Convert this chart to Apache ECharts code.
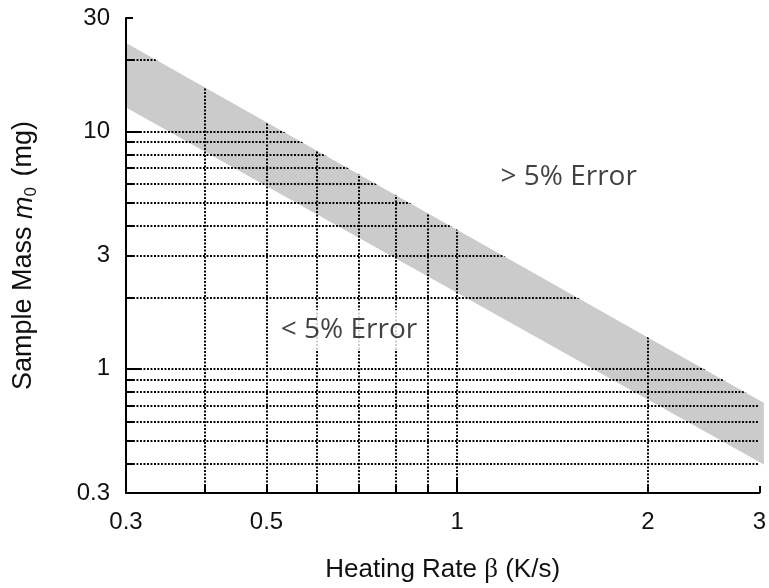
<!DOCTYPE html>
<html>
<head>
<meta charset="utf-8">
<script src="https://cdn.jsdelivr.net/npm/echarts@6/dist/echarts.min.js"></script>
<style>
  html, body { margin: 0; padding: 0; background: #fff; }
  #chart { width: 769px; height: 588px; }
</style>
</head>
<body>
<div id="chart"></div>
<script>
// heating rate axis (K/s)
const xMin = 0.3, xMax = 3
const xLabels = [0.3, 0.5, 1, 2, 3]
const xMinorTicks = [0.4, 0.5, 0.6, 0.7, 0.8, 0.9, 2, 3]
const xMajorTicks = [1]
const xGridLines = [0.4, 0.5, 0.6, 0.7, 0.8, 0.9, 1, 2]

// sample mass axis (mg)
const yMin = 0.3, yMax = 30
const yLabels = [0.3, 1, 3, 10, 30]
const yMinorTicks = [0.4, 0.5, 0.6, 0.7, 0.8, 0.9, 2, 3, 4, 5, 6, 7, 8, 9, 20, 30]
const yMajorTicks = [1, 10]
const yGridLines = [0.4, 0.5, 0.6, 0.7, 0.8, 0.9, 1, 2, 3, 4, 5, 6, 7, 8, 9, 10, 20]

// grey band, read at both ends
const bandRate = [0.3, 3.05]
const bandUpper = [23.6, 0.72]
const bandLower = [12.6, 0.395]

// region notes
const noteText = ['> 5% Error', '< 5% Error']
const noteRate = [1.5, 0.675]
const noteMass = [6.4, 1.46]

const chart = echarts.init(document.getElementById('chart'))

const labelFont = 'Liberation Sans, Arial, sans-serif'
const fmt = v => String(Math.round(v * 10) / 10)

// dotted grid, drawn full length; the white cover hides what is above the band
const gridData = []
yGridLines.forEach(v => gridData.push({ coords: [[xMin, v], [xMax, v]] }))
xGridLines.forEach(v => gridData.push({ coords: [[v, yMin], [v, yMax]] }))

function polygon(api, pts) {
  return {
    type: 'polygon',
    shape: { points: pts.map(p => api.coord(p)) },
    style: { fill: api.visual('color') }
  }
}

const option = {
  animation: false,
  grid: { left: 125, right: 6, top: 18, bottom: 92 },
  xAxis: [
    {
      type: 'log', logBase: 10, min: xMin, max: xMax, position: 'bottom', z: 10,
      name: 'Heating Rate {b|β} (K/s)',
      nameLocation: 'middle', nameGap: 63,
      nameTextStyle: {
        fontSize: 26, fontFamily: labelFont, color: '#111',
        rich: { b: { fontSize: 27, fontFamily: 'Liberation Serif, serif', color: '#111' } }
      },
      axisLine: { lineStyle: { color: '#000', width: 2 } },
      axisTick: { inside: true, length: 7, lineStyle: { color: '#000', width: 2 }, customValues: xMinorTicks },
      axisLabel: { customValues: xLabels, formatter: fmt, fontSize: 24, fontFamily: labelFont, color: '#111', margin: 17 },
      splitLine: { show: false }
    },
    {
      type: 'log', logBase: 10, min: xMin, max: xMax, position: 'bottom', z: 10,
      axisLine: { show: false },
      axisTick: { inside: true, length: 14, lineStyle: { color: '#000', width: 2 }, customValues: xMajorTicks },
      axisLabel: { show: false },
      splitLine: { show: false }
    }
  ],
  yAxis: [
    {
      type: 'log', logBase: 10, min: yMin, max: yMax, position: 'left', z: 10,
      name: 'Sample Mass {i|m}{s|0} (mg)',
      nameLocation: 'middle', nameGap: 86, nameRotate: 90,
      nameTextStyle: {
        fontSize: 27, fontFamily: labelFont, color: '#111', lineHeight: 32,
        rich: {
          i: { fontSize: 27, fontStyle: 'italic', fontFamily: labelFont, color: '#111', lineHeight: 32 },
          s: { fontSize: 17, fontFamily: labelFont, color: '#111', lineHeight: 32, verticalAlign: 'bottom', padding: [0, 3, 0, 0] }
        }
      },
      axisLine: { show: true, lineStyle: { color: '#000', width: 2 } },
      axisTick: { show: true, inside: true, length: 7, lineStyle: { color: '#000', width: 2 }, customValues: yMinorTicks },
      axisLabel: { customValues: yLabels, formatter: fmt, fontSize: 24, fontFamily: labelFont, color: '#111', margin: 16 },
      splitLine: { show: false }
    },
    {
      type: 'log', logBase: 10, min: yMin, max: yMax, position: 'left', z: 10,
      axisLine: { show: false },
      axisTick: { show: true, inside: true, length: 14, lineStyle: { color: '#000', width: 2 }, customValues: yMajorTicks },
      axisLabel: { show: false },
      splitLine: { show: false }
    }
  ],
  series: [
    {
      // grey band
      type: 'custom', z: 2, silent: true,
      itemStyle: { color: '#cbcbcb' },
      data: [[bandRate[0], bandUpper[0]]],
      renderItem: (params, api) => polygon(api, [
        [bandRate[0], bandUpper[0]], [bandRate[1], bandUpper[1]],
        [bandRate[1], bandLower[1]], [bandRate[0], bandLower[0]]
      ])
    },
    {
      // dotted grid
      type: 'lines', coordinateSystem: 'cartesian2d', z: 3, silent: true,
      lineStyle: { color: '#000', width: 1.9, type: [1.9, 1.6], opacity: 1 },
      data: gridData
    },
    {
      // white cover above the band
      type: 'custom', z: 4, silent: true,
      itemStyle: { color: '#ffffff' },
      data: [[bandRate[0], bandUpper[0]]],
      renderItem: (params, api) => polygon(api, [
        [bandRate[0], bandUpper[0]], [bandRate[1], bandUpper[1]],
        [bandRate[1], yMax], [bandRate[0], yMax]
      ])
    },
    {
      // region notes
      type: 'scatter', z: 6, silent: true, symbolSize: 0,
      data: noteText.map((t, i) => ({ value: [noteRate[i], noteMass[i]], name: t })),
      label: {
        show: true, position: 'inside', formatter: p => p.name,
        fontSize: 28, fontFamily: 'Open Sans, sans-serif', color: '#111',
        backgroundColor: '#ffffff', padding: [6, 8]
      }
    }
  ]
}

chart.setOption(option)
</script>
</body>
</html>
